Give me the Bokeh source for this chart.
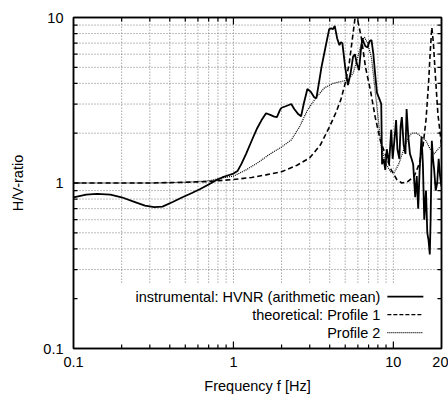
from bokeh.plotting import figure
from bokeh.models import FixedTicker, LogAxis, CustomJSTickFormatter
from bokeh.embed import file_html
from bokeh.resources import INLINE
from bokeh.core.properties import value

# ---------------- data ----------------
hvnr_f = [0.1, 0.12, 0.14, 0.17, 0.2, 0.24, 0.28, 0.32, 0.36, 0.42, 0.48, 0.55, 0.62, 0.7, 0.78,
          0.85, 0.92, 1.0, 1.06, 1.12, 1.2, 1.3, 1.41, 1.5, 1.6, 1.7, 1.8, 1.87, 1.95, 2.0, 2.1,
          2.2, 2.3, 2.4, 2.55, 2.65, 2.75, 2.9, 3.05, 3.2, 3.3, 3.45, 3.55, 3.75, 3.97, 4.1, 4.2,
          4.3, 4.45, 4.6, 4.7, 4.8, 5.0, 5.2, 5.4, 5.6, 5.75, 5.9, 6.1, 6.25, 6.4, 6.55, 6.7,
          6.9, 7.1, 7.3, 7.5, 7.7, 7.9, 8.2, 8.4, 8.5, 8.7, 8.9, 9.1, 9.4, 9.7, 9.9, 10.2, 10.4,
          10.6, 10.9, 11.1, 11.3, 11.6, 11.9, 12.1, 12.4, 12.7, 13.0, 13.3, 13.7, 14.0, 14.3,
          14.6, 15.0, 15.3, 15.6, 16.0, 16.3, 16.6, 16.9, 17.1, 17.4, 17.7, 18.0, 18.4, 18.8,
          19.2, 19.6, 20.0]
hvnr_v = [0.82, 0.85, 0.86, 0.85, 0.82, 0.77, 0.73, 0.715, 0.72, 0.77, 0.82, 0.87, 0.92, 0.98, 1.04,
          1.08, 1.11, 1.14, 1.18, 1.3, 1.5, 1.8, 2.15, 2.4, 2.64, 2.58, 2.52, 2.5, 2.75, 2.85, 2.9,
          2.95, 3.0, 2.8, 2.6, 2.53, 3.0, 3.7, 3.55, 3.3, 3.25, 4.2, 5.0, 6.5, 8.5, 8.6, 8.5,
          8.9, 7.5, 6.8, 7.1, 7.0, 5.0, 3.9, 4.6, 5.8, 6.0, 5.3, 4.8, 6.2, 7.5, 7.0, 6.7,
          6.6, 7.2, 7.3, 6.0, 4.5, 3.5, 3.2, 3.0, 1.3, 1.4, 1.2, 1.6, 1.3, 2.1, 1.4, 1.9, 2.4,
          1.6, 1.4, 2.2, 2.5, 1.7, 1.5, 2.8, 1.9, 1.5, 1.4, 1.3, 0.82, 1.1, 0.7,
          1.2, 1.9, 1.3, 0.6, 0.9, 0.5, 0.45, 0.37, 0.6, 1.8, 1.4, 1.2, 0.9, 1.0,
          1.4, 1.1, 0.95]

prof1_f = [0.1, 0.3, 0.5, 0.7, 0.88, 1.0, 1.3, 1.6, 2.0, 2.5, 3.0, 3.5, 4.0, 4.4, 4.7, 5.0, 5.3,
           5.55, 5.75, 6.0, 6.3, 6.7, 7.2, 7.7, 8.3, 9.0, 9.7, 10.5, 11.3, 12.3, 13.5, 14.5, 15.3,
           16.0, 16.6, 17.0, 17.4, 17.8, 18.3, 19.0, 20.0]
prof1_v = [1.0, 1.0, 1.01, 1.02, 1.04, 1.05, 1.08, 1.12, 1.17, 1.28, 1.42, 1.7, 2.2, 2.7, 3.2, 4.0, 5.3,
           7.5, 9.8, 9.5, 7.6, 5.0, 3.6, 2.5, 1.8, 1.45, 1.2, 1.05, 1.0, 1.02, 1.1, 1.3, 1.65,
           2.4, 4.0, 6.2, 8.7, 7.0, 4.5, 2.6, 1.7]

prof2_f = [0.1, 0.3, 0.5, 0.7, 0.88, 1.0, 1.2, 1.41, 1.7, 2.0, 2.3, 2.6, 2.9, 3.3, 3.7, 4.2, 4.7,
           5.2, 5.6, 6.0, 6.4, 6.6, 6.9, 7.3, 7.8, 8.4, 9.0, 9.6, 10.1, 10.8, 11.5, 12.3, 13.0,
           14.0, 15.0, 16.0, 17.0, 18.0, 19.0, 20.0]
prof2_v = [1.0, 1.0, 1.01, 1.03, 1.08, 1.1, 1.2, 1.32, 1.5, 1.65, 1.82, 2.2, 2.75, 3.3, 3.75, 4.0, 4.1,
           4.2, 4.6, 5.8, 7.3, 7.6, 7.0, 5.7, 3.2, 1.65, 1.3, 1.17, 1.15, 1.3, 1.55, 1.85, 2.0,
           2.0, 1.9, 1.8, 1.6, 1.5, 1.6, 1.7]

x_major = [0.1, 1, 10, 20]
x_minor = [0.2, 0.3, 0.4, 0.5, 0.6, 0.7, 0.8, 0.9, 2, 3, 4, 5, 6, 7, 8, 9]
y_major = [0.1, 1, 10]
y_minor = [0.2, 0.3, 0.4, 0.5, 0.6, 0.7, 0.8, 0.9, 2, 3, 4, 5, 6, 7, 8, 9]
grid_x = [0.2, 0.3, 0.4, 0.5, 0.6, 0.7, 0.8, 0.9, 1, 2, 3, 4, 5, 6, 7, 8, 9, 10]
grid_y = [0.3, 0.4, 0.5, 0.6, 0.7, 0.8, 0.9, 1, 2, 3, 4, 5, 6, 7, 8, 9]

legend_labels = ["instrumental: HVNR (arithmetic mean)", "theoretical: Profile 1", "Profile 2"]

FONT = "Liberation Sans"
FS = "14.5px"

X0, X1, Y0, Y1 = 0.1, 20, 0.1, 10
PX_PER_DEC_X, PX_PER_DEC_Y = 160.0, 166.0

# ---------------- figure ----------------
p = figure(width=448, height=396, x_axis_type="log", y_axis_type="log",
           x_range=(X0, X1), y_range=(Y0, Y1),
           output_backend="svg", toolbar_location=None,
           min_border_left=73, min_border_right=7, min_border_top=17, min_border_bottom=47)
p.background_fill_color = "white"
p.border_fill_color = "white"
p.outline_line_color = "black"
p.outline_line_width = 1.5
p.xgrid.visible = False
p.ygrid.visible = False

fmt = CustomJSTickFormatter(code="return tick.toString()")
blank = CustomJSTickFormatter(code="return ''")

def style_axis(ax, major, minor, labels=True):
    ax.ticker = FixedTicker(ticks=major, minor_ticks=minor)
    ax.formatter = fmt if labels else blank
    ax.axis_line_color = "black"
    ax.axis_line_width = 1.5
    ax.major_tick_in = 0
    ax.major_tick_out = 0
    ax.minor_tick_in = 0
    ax.minor_tick_out = 0
    ax.major_tick_line_color = None
    ax.minor_tick_line_color = None
    ax.major_label_text_font = FONT
    ax.major_label_text_color = "black"
    ax.axis_label_text_font = FONT
    ax.axis_label_text_font_size = FS
    ax.axis_label_text_font_style = "normal"
    ax.axis_label_text_color = "black"
    if labels:
        ax.major_label_text_font_size = FS
    else:
        ax.major_label_text_font_size = "0px"
        ax.major_label_standoff = 0

xa = p.xaxis[0]
ya = p.yaxis[0]
style_axis(xa, x_major, x_minor)
style_axis(ya, y_major, y_minor)
xa.axis_label = "Frequency f [Hz]"
ya.axis_label = "H/V-ratio"
xa.major_label_standoff = 8
xa.axis_label_standoff = 8
ya.major_label_standoff = 10
ya.axis_label_standoff = 14

top = LogAxis()
style_axis(top, x_major, x_minor, labels=False)
p.add_layout(top, "above")
right = LogAxis()
style_axis(right, y_major, y_minor, labels=False)
p.add_layout(right, "right")

# ---------------- grid ----------------
GRID_LOW = 0.25
p.segment(x0=grid_x, y0=[GRID_LOW] * len(grid_x), x1=grid_x, y1=[Y1] * len(grid_x),
          line_color="#7a7a7a", line_width=1, line_dash="1 2")
p.segment(x0=[X0] * len(grid_y), y0=grid_y, x1=[X1] * len(grid_y), y1=grid_y,
          line_color="#7a7a7a", line_width=1, line_dash="1 2")

# ---------------- inward ticks on all four sides ----------------
MAJ_LEN, MIN_LEN = 7, 4
xt = [v for v in x_major if X0 < v < X1] + x_minor
xl = [MAJ_LEN if v in x_major else MIN_LEN for v in xt]
yt = [v for v in y_major if Y0 < v < Y1] + y_minor
yl = [MAJ_LEN if v in y_major else MIN_LEN for v in yt]
ky = [10 ** (l / PX_PER_DEC_Y) for l in xl]
kx = [10 ** (l / PX_PER_DEC_X) for l in yl]
tick_kw = dict(line_color="black", line_width=1.2)
p.segment(x0=xt, y0=[Y0] * len(xt), x1=xt, y1=[Y0 * k for k in ky], **tick_kw)
p.segment(x0=xt, y0=[Y1] * len(xt), x1=xt, y1=[Y1 / k for k in ky], **tick_kw)
p.segment(x0=[X0] * len(yt), y0=yt, x1=[X0 * k for k in kx], y1=yt, **tick_kw)
p.segment(x0=[X1] * len(yt), y0=yt, x1=[X1 / k for k in kx], y1=yt, **tick_kw)

# ---------------- curves ----------------
p.line(prof2_f, prof2_v, line_color="black", line_width=1.2, line_dash="1 1")
p.line(prof1_f, prof1_v, line_color="black", line_width=1.6, line_dash="5 3")
p.line(hvnr_f, hvnr_v, line_color="black", line_width=1.8)

# ---------------- legend (manual, gnuplot style) ----------------
def fx(px):
    return X0 * 10 ** ((px - 73) / PX_PER_DEC_X)

def fy(py):
    return 10 ** ((183 - py) / PX_PER_DEC_Y)

rows = [fy(297), fy(315), fy(333)]
p.text(x=[fx(380)] * 3, y=rows, text=legend_labels,
       text_font=value(FONT), text_font_size=FS, text_align="right",
       text_baseline="middle", text_color="black")
styles = [(None, 1.8), ("4 2", 1.3), ("1 1", 1.2)]
for yy, (dash, w) in zip(rows, styles):
    kw = dict(line_color="black", line_width=w)
    if dash:
        kw["line_dash"] = dash
    p.line([fx(387), fx(423)], [yy, yy], **kw)

open("out.html", "w").write(file_html(p, INLINE))
